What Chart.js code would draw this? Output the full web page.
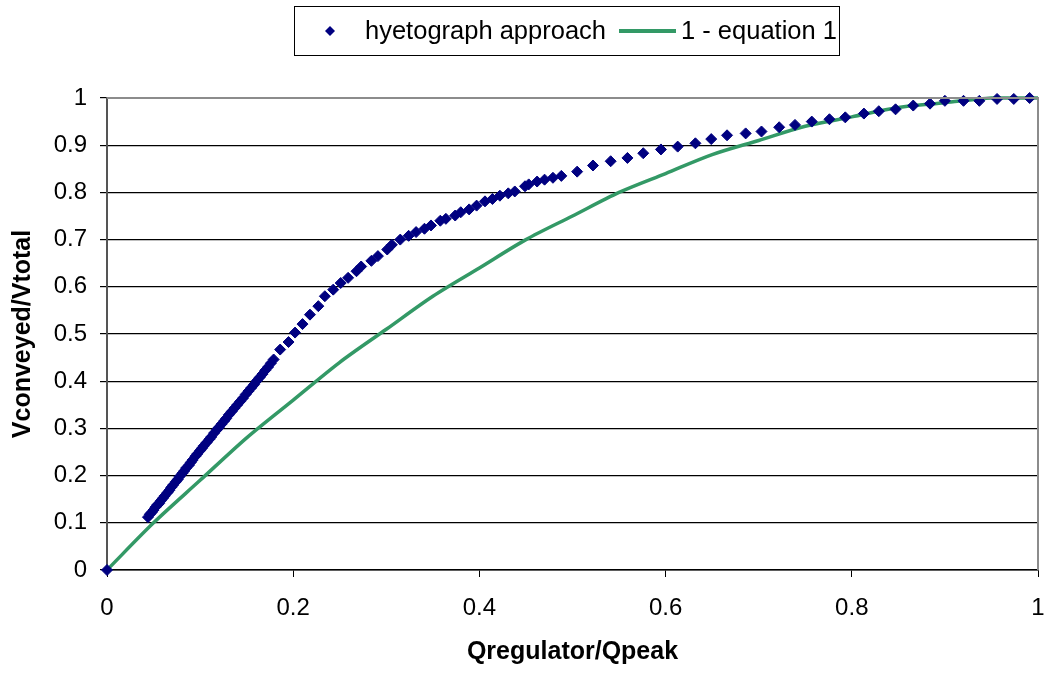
<!DOCTYPE html>
<html>
<head>
<meta charset="utf-8">
<script src="https://cdn.jsdelivr.net/npm/chart.js@4.4.1/dist/chart.umd.min.js"></script>
<style>
    body { margin: 0; background: #fff; }
    #chartBox { width: 1046px; height: 675px; }
</style>
</head>
<body>
<div id="chartBox"><canvas id="hyetoChart" width="1046" height="675"></canvas></div>
<script>
// hyetograph approach (scatter)
const hyetoX = [0,
    0.044, 0.046, 0.048, 0.050, 0.052, 0.054, 0.056, 0.058, 0.060, 0.062,
    0.065, 0.067, 0.069, 0.071, 0.074, 0.076, 0.078, 0.081, 0.083, 0.085,
    0.088, 0.090, 0.092, 0.095, 0.097, 0.100, 0.102, 0.104, 0.107, 0.110,
    0.112, 0.115, 0.118, 0.120, 0.123, 0.126, 0.128, 0.131, 0.134, 0.137,
    0.140, 0.143, 0.146, 0.149, 0.152, 0.155, 0.158, 0.161, 0.164, 0.167,
    0.170, 0.173, 0.176, 0.179,
    0.186, 0.195, 0.202, 0.210, 0.218, 0.227, 0.234, 0.243, 0.251, 0.259,
    0.268, 0.273, 0.284, 0.291, 0.301, 0.306, 0.315, 0.324, 0.332, 0.341,
    0.348, 0.358, 0.364, 0.374, 0.380, 0.389, 0.397, 0.406, 0.414, 0.422,
    0.431, 0.438, 0.449, 0.453, 0.462, 0.470, 0.479, 0.488, 0.505, 0.522,
    0.541, 0.559, 0.576, 0.595, 0.613, 0.632, 0.649, 0.666, 0.686, 0.703,
    0.722, 0.739, 0.757, 0.776, 0.793, 0.813, 0.829, 0.847, 0.866, 0.884,
    0.900, 0.920, 0.937, 0.956, 0.974, 0.991];
const hyetoY = [0,
    0.112, 0.118, 0.122, 0.127, 0.133, 0.138, 0.141, 0.147, 0.152, 0.157,
    0.164, 0.169, 0.175, 0.180, 0.187, 0.192, 0.198, 0.205, 0.210, 0.216,
    0.222, 0.228, 0.233, 0.241, 0.246, 0.253, 0.258, 0.263, 0.270, 0.277,
    0.282, 0.290, 0.297, 0.302, 0.309, 0.316, 0.321, 0.329, 0.336, 0.343,
    0.350, 0.357, 0.364, 0.372, 0.379, 0.386, 0.393, 0.401, 0.408, 0.415,
    0.423, 0.430, 0.438, 0.446,
    0.467, 0.483, 0.503, 0.521, 0.541, 0.559, 0.580, 0.594, 0.608, 0.619,
    0.633, 0.643, 0.655, 0.665, 0.679, 0.689, 0.700, 0.708, 0.716, 0.723,
    0.730, 0.740, 0.744, 0.751, 0.758, 0.764, 0.772, 0.781, 0.786, 0.793,
    0.798, 0.802, 0.813, 0.817, 0.823, 0.827, 0.831, 0.835, 0.844, 0.857,
    0.866, 0.873, 0.883, 0.891, 0.897, 0.904, 0.913, 0.921, 0.925, 0.929,
    0.938, 0.943, 0.950, 0.955, 0.959, 0.967, 0.972, 0.976, 0.984, 0.988,
    0.994, 0.994, 0.994, 0.998, 0.998, 1.000];

// 1 - equation 1 (line)
const eqX = [0, 0.05, 0.1, 0.15, 0.2, 0.25, 0.3, 0.35, 0.4, 0.45, 0.5,
    0.55, 0.6, 0.65, 0.7, 0.75, 0.8, 0.85, 0.9, 0.95, 1];
const eqY = [0, 0.10, 0.19, 0.28, 0.36, 0.44, 0.51, 0.58, 0.64, 0.70, 0.75,
    0.80, 0.84, 0.88, 0.91, 0.94, 0.96, 0.98, 0.99, 1.0, 1.0];

const xTicks = [0, 0.2, 0.4, 0.6, 0.8, 1];
const yTicks = [0, 0.1, 0.2, 0.3, 0.4, 0.5, 0.6, 0.7, 0.8, 0.9, 1];

const seriesNames = ['hyetograph approach', '1 - equation 1'];

const FONT = "'Liberation Sans', Arial, sans-serif";

// plot frame: grey top and right edges like the Excel chart
const frameLines = {
    id: 'frameLines',
    afterDraw(chart) {
        const { ctx, chartArea: a } = chart;
        ctx.save();
        ctx.strokeStyle = '#8c8c8c';
        ctx.lineWidth = 2;
        ctx.beginPath();
        ctx.moveTo(a.left, a.top);
        ctx.lineTo(a.right, a.top);
        ctx.lineTo(a.right, a.bottom);
        ctx.stroke();
        ctx.restore();
    }
};

// boxed legend at the top
const boxLegend = {
    id: 'boxLegend',
    afterDraw(chart) {
        const ctx = chart.ctx;
        const ds = chart.data.datasets;
        const cy = 31;
        ctx.save();
        ctx.fillStyle = '#fff';
        ctx.fillRect(294.5, 6.5, 545, 49);
        ctx.strokeStyle = '#000';
        ctx.lineWidth = 1;
        ctx.strokeRect(294.5, 6.5, 545, 49);

        // diamond
        ctx.fillStyle = ds[0].backgroundColor;
        ctx.beginPath();
        ctx.moveTo(330, cy - 5);
        ctx.lineTo(335, cy);
        ctx.lineTo(330, cy + 5);
        ctx.lineTo(325, cy);
        ctx.closePath();
        ctx.fill();

        // line sample
        ctx.strokeStyle = ds[1].borderColor;
        ctx.lineWidth = 4;
        ctx.beginPath();
        ctx.moveTo(619, cy);
        ctx.lineTo(676, cy);
        ctx.stroke();

        ctx.fillStyle = '#000';
        ctx.font = '25.5px ' + FONT;
        ctx.textBaseline = 'middle';
        ctx.textAlign = 'left';
        ctx.fillText(ds[0].label, 365, cy + 1);
        ctx.fillText(ds[1].label, 681, cy + 1);
        ctx.restore();
    }
};

const ctx = document.getElementById('hyetoChart').getContext('2d');
const hyetoChart = new Chart(ctx, {
    type: 'scatter',
    data: {
        datasets: [{
            label: seriesNames[0],
            data: hyetoX.map((x, i) => ({ x: x, y: hyetoY[i] })),
            pointStyle: 'rectRot',
            pointRadius: 5.5,
            pointHoverRadius: 5.5,
            backgroundColor: '#000080',
            borderColor: '#000080',
            borderWidth: 1,
            showLine: false,
            clip: false
        }, {
            type: 'line',
            label: seriesNames[1],
            data: eqX.map((x, i) => ({ x: x, y: eqY[i] })),
            borderColor: '#339966',
            backgroundColor: '#339966',
            borderWidth: 3.5,
            pointRadius: 0,
            tension: 0.3,
            fill: false,
            clip: false
        }]
    },
    options: {
        responsive: false,
        animation: false,
        events: [],
        layout: { padding: { top: 98, right: 8, bottom: 0, left: 0 } },
        plugins: {
            legend: { display: false },
            tooltip: { enabled: false }
        },
        scales: {
            x: {
                type: 'linear',
                min: 0,
                max: 1,
                afterBuildTicks: scale => { scale.ticks = xTicks.map(v => ({ value: v })); },
                afterFit: scale => {
                    scale.height = 105;
                    scale.paddingLeft = 0;
                    scale.paddingRight = 0;
                },
                ticks: {
                    color: '#000',
                    padding: 17,
                    maxRotation: 0,
                    font: { family: FONT, size: 24 },
                    callback: v => String(v)
                },
                grid: {
                    drawOnChartArea: false,
                    drawTicks: true,
                    tickLength: 7,
                    color: '#000'
                },
                border: { color: '#000', width: 1.5 },
                title: {
                    display: true,
                    text: 'Qregulator/Qpeak',
                    color: '#000',
                    font: { family: FONT, size: 25, weight: 'bold' },
                    padding: { top: 0, bottom: 8 }
                }
            },
            y: {
                type: 'linear',
                min: 0,
                max: 1,
                afterBuildTicks: scale => { scale.ticks = yTicks.map(v => ({ value: v })); },
                afterFit: scale => { scale.width = 107; },
                ticks: {
                    color: '#000',
                    padding: 13,
                    font: { family: FONT, size: 24 },
                    callback: v => String(v)
                },
                grid: {
                    color: '#000',
                    lineWidth: 1.2,
                    tickLength: 7
                },
                border: { color: '#555', width: 2 },
                title: {
                    display: true,
                    text: 'Vconveyed/Vtotal',
                    color: '#000',
                    font: { family: FONT, size: 25, weight: 'bold' },
                    padding: { top: 8, bottom: 0 }
                }
            }
        }
    },
    plugins: [frameLines, boxLegend]
});
</script>
</body>
</html>
